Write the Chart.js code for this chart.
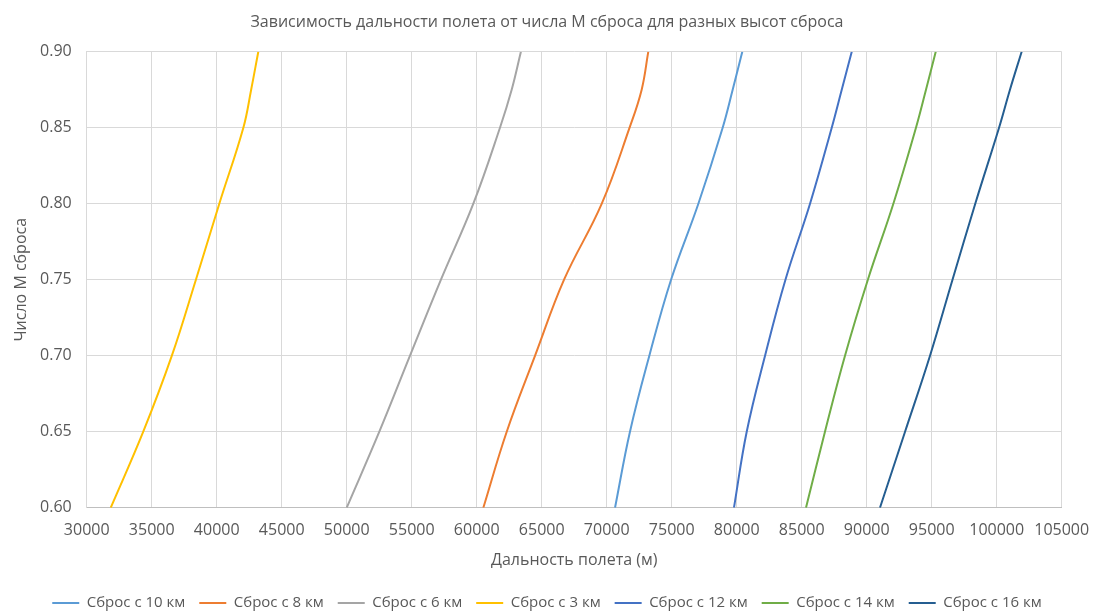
<!DOCTYPE html>
<html lang="ru">
<head>
<meta charset="utf-8">
<title>Зависимость дальности полета от числа М сброса</title>
<script src="https://cdn.jsdelivr.net/npm/chart.js@4/dist/chart.umd.min.js"></script>
<style>
  html, body { margin: 0; padding: 0; background: #ffffff; }
  #wrap { width: 1094px; height: 614px; position: relative; }
</style>
</head>
<body>
<div id="wrap"><canvas id="chart" width="1094" height="614"></canvas></div>
<script>
// Mach number at release (y) for every range sample below
const machValues = [0.60, 0.65, 0.70, 0.75, 0.80, 0.85, 0.875, 0.90];

// Flight range, m, for each release altitude
const range10km = [70640, 71790, 73280, 74950, 77050, 78920, 79690, 80430];
const range8km  = [60510, 62310, 64490, 66720, 69620, 71760, 72690, 73200];
const range6km  = [50000, 52510, 54870, 57250, 59740, 61790, 62690, 63400];
const range3km  = [31850, 34350, 36550, 38400, 40200, 42050, 42650, 43200];
const range12km = [79790, 80770, 82180, 83750, 85640, 87310, 88080, 88850];
const range14km = [85330, 86790, 88330, 90090, 92050, 93790, 94560, 95310];
const range16km = [91020, 92950, 94870, 96600, 98350, 100180, 101020, 101920];

const seriesNames = ['Сброс с 10 км', 'Сброс с 8 км', 'Сброс с 6 км', 'Сброс с 3 км',
                     'Сброс с 12 км', 'Сброс с 14 км', 'Сброс с 16 км'];
const seriesRanges = [range10km, range8km, range6km, range3km, range12km, range14km, range16km];
const seriesColors = ['#5B9BD5', '#ED7D31', '#A5A5A5', '#FFC000', '#4472C4', '#70AD47', '#255E91'];

// Axis ticks
const xTickMin = 30000, xTickMax = 105000, xTickStep = 5000;
const yTickMin = 0.60, yTickMax = 0.90, yTickStep = 0.05;

const textColor = '#595959';
const gridColor = '#D9D9D9';
const fontFamily = '"Open Sans", "Liberation Sans", sans-serif';

const datasets = seriesNames.map((name, i) => ({
  label: name,
  data: seriesRanges[i].map((x, k) => ({ x: x, y: machValues[k] })),
  borderColor: seriesColors[i],
  backgroundColor: seriesColors[i],
  borderWidth: 2,
  showLine: true,
  tension: 0.4,
  pointRadius: 0,
  pointHoverRadius: 0,
  fill: false
}));

new Chart(document.getElementById('chart'), {
  type: 'scatter',
  data: { datasets: datasets },
  options: {
    responsive: false,
    animation: false,
    events: [],
    layout: { padding: { left: 0, right: 0, top: 0, bottom: -6.5 } },
    plugins: {
      title: {
        display: true,
        text: 'Зависимость дальности полета от числа М сброса для разных высот сброса',
        color: textColor,
        font: { family: fontFamily, size: 16, weight: 'normal', lineHeight: 1.2 },
        padding: { top: 12.4, bottom: 20.1 }
      },
      legend: {
        display: true,
        position: 'bottom',
        labels: {
          color: textColor,
          font: { family: fontFamily, size: 15 },
          usePointStyle: true,
          pointStyle: 'line',
          pointStyleWidth: 27,
          padding: 14
        }
      },
      tooltip: { enabled: false }
    },
    scales: {
      x: {
        type: 'linear',
        min: xTickMin,
        max: xTickMax,
        afterFit: s => { s.height = 73.8; s.paddingRight = 32.3; },
        ticks: {
          stepSize: xTickStep,
          color: textColor,
          padding: 13,
          maxRotation: 0,
          autoSkip: false,
          font: { family: fontFamily, size: 16 },
          callback: v => String(v)
        },
        grid: { color: gridColor, drawTicks: false, lineWidth: 1 },
        border: { color: '#BFBFBF' },
        title: {
          display: true,
          text: 'Дальность полета (м)',
          color: textColor,
          font: { family: fontFamily, size: 16, lineHeight: 1.2 },
          padding: { top: 0, bottom: 11.9 }
        }
      },
      y: {
        type: 'linear',
        min: yTickMin,
        max: yTickMax,
        afterFit: s => { s.width = 86.7; },
        ticks: {
          stepSize: yTickStep,
          color: textColor,
          padding: 15,
          font: { family: fontFamily, size: 16 },
          callback: v => Number(v).toFixed(2)
        },
        grid: { color: gridColor, drawTicks: false, lineWidth: 1 },
        border: { color: gridColor },
        title: {
          display: true,
          text: 'Число М сброса',
          color: textColor,
          font: { family: fontFamily, size: 16, lineHeight: 1.2 },
          padding: { top: 12, bottom: 0 }
        }
      }
    }
  }
});
</script>
</body>
</html>
